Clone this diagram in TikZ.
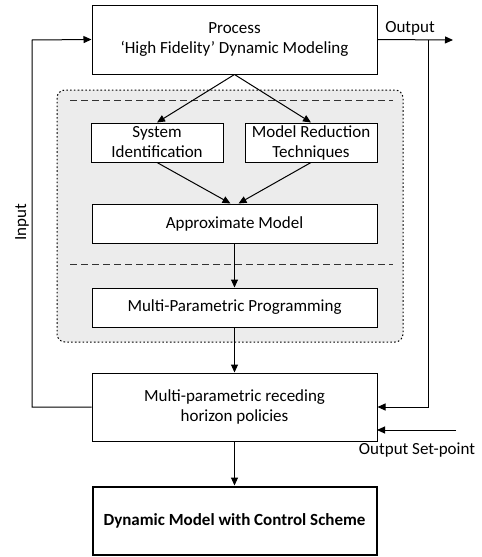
\documentclass[tikz,border=0pt]{standalone}
\usepackage{fontspec}
\setmainfont{Carlito}
\usetikzlibrary{arrows.meta,calc}
\begin{document}
\begin{tikzpicture}[x=1pt,y=-1pt,
  font=\fontsize{17}{20}\selectfont,
  box/.style={draw,line width=1pt,fill=white,align=center,inner sep=0pt},
  arr/.style={line width=1pt,-{Triangle[length=8pt,width=7pt]}},
  ln/.style={line width=1pt}]
\useasboundingbox (0,0) rectangle (482,557);
% gray region
\draw[line width=1pt,dash pattern=on 1.6pt off 2.2pt,fill=gray!15,rounded corners=8pt] (57,90) rectangle (403,342);
\draw[line width=0.8pt,dash pattern=on 7pt off 4pt,black!80] (70,100) -- (393,100);
\draw[line width=0.8pt,dash pattern=on 7pt off 4pt,black!80] (70,264) -- (393,264);
% nodes
\node[box,minimum width=285pt,minimum height=69pt] (proc) at (234.5,39.5) {Process\\ `High Fidelity' Dynamic Modeling};
\node[box,minimum width=132pt,minimum height=39pt] (si) at (157,142.5) {System\\ Identification};
\node[box,minimum width=132pt,minimum height=39pt] (mr) at (311,142.5) {Model Reduction\\ Techniques};
\node[box,minimum width=285pt,minimum height=39pt] (am) at (234.5,223.5) {Approximate Model};
\node[box,minimum width=285pt,minimum height=39pt] (mpp) at (234.5,307.5) {Multi-Parametric Programming};
\node[box,minimum width=285pt,minimum height=68pt] (mrhp) at (234.5,407) {Multi-parametric receding\\ horizon policies};
\node[box,line width=2pt,minimum width=284pt,minimum height=68pt,font=\fontsize{17}{20}\selectfont\bfseries] (fin) at (234.5,520.5) {Dynamic Model with Control Scheme};
% labels
\node (outl) at (410,28) {Output};
\node[rotate=90] (inl) at (22,222) {Input};
\node (spl) at (417,450) {Output Set-point};
% coordinates
\coordinate (oend) at (453,40);
\coordinate (oc) at (428,40);
\coordinate (ocb) at (428,407);
\coordinate (ic) at (32,40);
\coordinate (icb) at (32,407);
\coordinate (sps) at (456,430);
\coordinate (spe) at (377,430);
% connectors
\draw[arr] (proc.south) -- (si.north);
\draw[arr] (proc.south) -- (mr.north);
\draw[arr] (si.south) -- ($(am.north)+(-4,0)$);
\draw[arr] (mr.south) -- ($(am.north)+(4,0)$);
\draw[arr] (am.south) -- (mpp.north);
\draw[arr] (mpp.south) -- (mrhp.north);
\draw[arr] (mrhp.south) -- (fin.north);
\draw[arr] (proc.east) -- (oend);
\draw[arr] (oc) -- (ocb) -- (mrhp.east);
\draw[arr] (mrhp.west) -- (icb) -- (ic) -- (proc.west);
\draw[arr] (sps) -- (spe);
\end{tikzpicture}
\end{document}
